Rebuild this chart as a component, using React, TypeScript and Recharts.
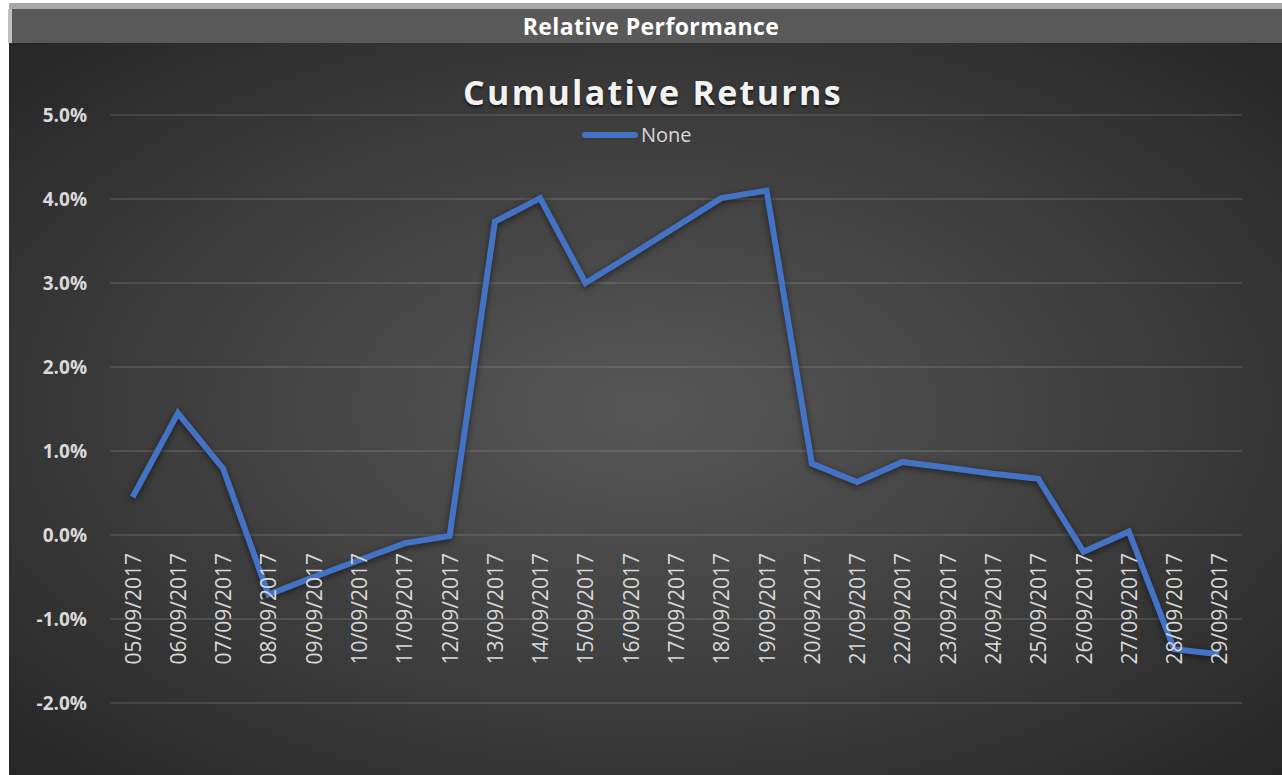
import { LineChart, Line, XAxis, YAxis, CartesianGrid } from "recharts";

const dates = [
  "05/09/2017", "06/09/2017", "07/09/2017", "08/09/2017", "09/09/2017",
  "10/09/2017", "11/09/2017", "12/09/2017", "13/09/2017", "14/09/2017",
  "15/09/2017", "16/09/2017", "17/09/2017", "18/09/2017", "19/09/2017",
  "20/09/2017", "21/09/2017", "22/09/2017", "23/09/2017", "24/09/2017",
  "25/09/2017", "26/09/2017", "27/09/2017", "28/09/2017", "29/09/2017",
];

// cumulative return, in percent
const returns = [
  0.45, 1.45, 0.79, -0.71, -0.5, -0.3, -0.1, -0.01, 3.73, 4.01,
  3.0, 3.33, 3.67, 4.01, 4.1, 0.85, 0.63, 0.87, 0.8, 0.73,
  0.67, -0.2, 0.04, -1.36, -1.42,
];

const yTicks = [-2, -1, 0, 1, 2, 3, 4, 5];
const seriesName = "None";

const data = dates.map((date, i) => ({ date, value: returns[i] }));

const FONT = '"Open Sans", "DejaVu Sans", sans-serif';
const LABEL = "#d9d9d9";
const BLUE = "#4472c4";

const CHART_W = 1273;
const CHART_H = 732;
const MARGIN = { top: 72, right: 40, bottom: 0, left: 11 };
const X_AXIS_H = 72;
const Y_MIN = yTicks[0];
const Y_MAX = yTicks[yTicks.length - 1];

// the category labels hang from the 0% line, not from the bottom of the plot
const plotH = CHART_H - MARGIN.top - MARGIN.bottom - X_AXIS_H;
const zeroLift = (plotH * (0 - Y_MIN)) / (Y_MAX - Y_MIN);

function DateTick({ x, y, payload }: any) {
  const ty = y - zeroLift + 18;
  return (
    <text
      x={x}
      y={ty}
      transform={`rotate(-90, ${x}, ${ty})`}
      textAnchor="end"
      dominantBaseline="central"
      fill={LABEL}
      fontFamily={FONT}
      fontSize={21}
    >
      {payload.value}
    </text>
  );
}

export default function App() {
  return (
    <div
      style={{
        position: "absolute",
        left: 0,
        top: 0,
        width: 1282,
        height: 775,
        background: "#ffffff",
        overflow: "hidden",
        fontFamily: FONT,
      }}
    >
      <div style={{ position: "absolute", left: 9, top: 3, width: 1273, height: 6, background: "#a6a6a6" }} />
      <div style={{ position: "absolute", left: 8, top: 9, width: 4, height: 34, background: "#bfbfbf" }} />
      <div
        style={{
          position: "absolute",
          left: 12,
          top: 9,
          width: 1270,
          height: 34,
          background: "#595959",
        }}
      />
      <div
        style={{
          position: "absolute",
          left: 0,
          top: 9,
          width: 1302,
          height: 34,
          lineHeight: "34px",
          textAlign: "center",
          color: "#ffffff",
          fontWeight: 700,
          fontSize: 23,
          letterSpacing: 0.4,
        }}
      >
        Relative Performance
      </div>

      <div
        style={{
          position: "absolute",
          left: 9,
          top: 43,
          width: CHART_W,
          height: CHART_H,
          background:
            "radial-gradient(ellipse farthest-corner at 50% 50%, #575757 0%, #3d3d3d 55%, #262626 100%)",
        }}
      >
        <div
          style={{
            position: "absolute",
            left: 0,
            top: 26,
            width: 1288,
            textAlign: "center",
            color: "#f2f2f2",
            fontWeight: 700,
            fontSize: 34,
            letterSpacing: 2.3,
            textShadow: "0 2px 3px rgba(0,0,0,0.6)",
          }}
        >
          Cumulative Returns
        </div>
        <div
          style={{
            position: "absolute",
            left: 573,
            top: 78,
            display: "flex",
            alignItems: "center",
            color: LABEL,
            fontSize: 20,
          }}
        >
          <div style={{ width: 56, height: 6, borderRadius: 3, background: BLUE, marginRight: 3 }} />
          {seriesName}
        </div>

        <LineChart width={CHART_W} height={CHART_H} data={data} margin={MARGIN}>
          <CartesianGrid vertical={false} stroke="rgba(217,217,217,0.18)" strokeWidth={1.5} />
          <XAxis
            dataKey="date"
            scale="band"
            height={X_AXIS_H}
            axisLine={false}
            tickLine={false}
            tickSize={0}
            tickMargin={0}
            interval={0}
            tick={<DateTick />}
          />
          <YAxis
            width={90}
            domain={[Y_MIN, Y_MAX]}
            ticks={yTicks}
            axisLine={false}
            tickLine={false}
            tickSize={0}
            tickMargin={23}
            tickFormatter={(v: number) => `${v.toFixed(1)}%`}
            tick={{ fill: LABEL, fontFamily: FONT, fontSize: 19, fontWeight: 700 }}
          />
          <Line
            type="linear"
            dataKey="value"
            name={seriesName}
            stroke={BLUE}
            strokeWidth={6}
            dot={false}
            activeDot={false}
            isAnimationActive={false}
            style={{ filter: "drop-shadow(0px 2px 3px rgba(0,0,0,0.55))" }}
          />
        </LineChart>
      </div>
    </div>
  );
}
